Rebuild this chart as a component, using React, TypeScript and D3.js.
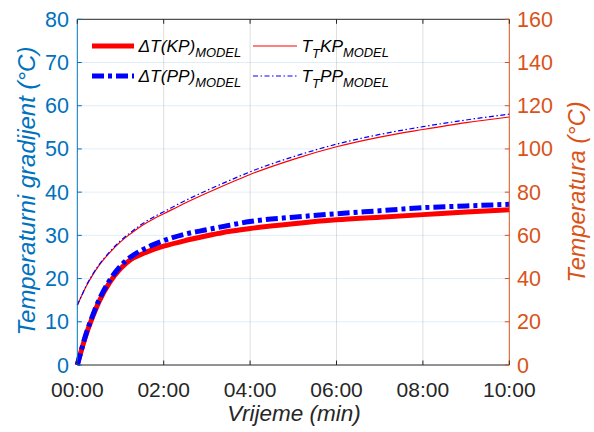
import React from "react";
import * as d3 from "d3";

const tMin = [0, 0.1, 0.2, 0.35, 0.5, 0.75, 1, 1.25, 1.5, 1.75, 2, 2.5, 3, 3.5, 4, 5, 6, 7, 8, 9, 10];
const dtKP = [0, 3.6, 6.9, 11.0, 14.6, 19.1, 22.3, 24.5, 25.7, 26.7, 27.5, 28.8, 29.9, 30.9, 31.6, 32.7, 33.6, 34.2, 34.8, 35.4, 35.9];
const dtPP = [0, 3.7, 7.1, 11.3, 15.0, 19.6, 22.9, 25.1, 26.6, 27.8, 28.8, 30.3, 31.3, 32.3, 33.2, 34.2, 35.0, 35.7, 36.4, 36.8, 37.2];
const ttKP = [27.6, 32, 36.2, 41.5, 46, 52, 57, 61, 64.6, 67.5, 70, 75, 79.6, 84, 88.2, 95.2, 101, 105.5, 109, 112.2, 114.8];
const ttPP = [27.6, 32.1, 36.4, 41.8, 46.3, 52.4, 57.5, 61.6, 65.3, 68.3, 70.9, 76.1, 80.8, 85.2, 89.4, 96.4, 102.2, 106.7, 110.3, 113.4, 116.1];

const xTicks = [0, 2, 4, 6, 8, 10];
const xTickLabels = ["00:00", "02:00", "04:00", "06:00", "08:00", "10:00"];
const leftTicks = [0, 10, 20, 30, 40, 50, 60, 70, 80];
const rightTicks = [0, 20, 40, 60, 80, 100, 120, 140, 160];

const LEFT_COLOR = "#0072BD";
const RIGHT_COLOR = "#D95319";
const AX = "#262626";
const FONT = "'Liberation Sans', Arial, Helvetica, sans-serif";

export default function App() {
  const W = 594, H = 432;
  const x0 = 77.3, x1 = 509.3, y0 = 19.3, y1 = 365;
  const x = d3.scaleLinear().domain([0, 10]).range([x0, x1]);
  const yL = d3.scaleLinear().domain([0, 80]).range([y1, y0]);
  const yR = d3.scaleLinear().domain([0, 160]).range([y1, y0]);

  const lineL = (vals: number[]) =>
    d3.line<number>().x((_, i) => x(tMin[i])).y((v) => yL(v)).curve(d3.curveMonotoneX)(vals) || "";
  const lineR = (vals: number[]) =>
    d3.line<number>().x((_, i) => x(tMin[i])).y((v) => yR(v)).curve(d3.curveMonotoneX)(vals) || "";

  const tick = 4.5;
  const thickDash = "12,4,4,4";
  const thinDash = "5,2.5,1.5,2.5";

  return (
    <svg width={W} height={H} style={{ position: "absolute", left: 0, top: 0, background: "#fff" }}>
      <rect x={0} y={0} width={W} height={H} fill="#fff" />
      {/* grid */}
      {xTicks.slice(1, -1).map((t) => (
        <line key={"gx" + t} x1={x(t)} x2={x(t)} y1={y0} y2={y1} stroke={AX} strokeOpacity={0.15} strokeWidth={1} />
      ))}
      {leftTicks.slice(1, -1).map((v) => (
        <line key={"gy" + v} x1={x0} x2={x1} y1={yL(v)} y2={yL(v)} stroke={LEFT_COLOR} strokeOpacity={0.12} strokeWidth={1} />
      ))}
      {/* data */}
      <g fill="none">
        <path d={lineL(dtKP)} stroke="#FF0000" strokeWidth={5} />
        <path d={lineL(dtPP)} stroke="#0000FF" strokeWidth={5} strokeDasharray={thickDash} />
        <path d={lineR(ttKP)} stroke="#FF0000" strokeWidth={1.2} />
        <path d={lineR(ttPP)} stroke="#0000FF" strokeWidth={1.2} strokeDasharray={thinDash} />
      </g>
      {/* box axes */}
      <line x1={x0} x2={x1} y1={y0} y2={y0} stroke={AX} strokeWidth={1} />
      <line x1={x0} x2={x1} y1={y1} y2={y1} stroke={AX} strokeWidth={1} />
      <line x1={x0} x2={x0} y1={y0} y2={y1} stroke={LEFT_COLOR} strokeWidth={1} />
      <line x1={x1} x2={x1} y1={y0} y2={y1} stroke={RIGHT_COLOR} strokeWidth={1} />
      {/* x ticks */}
      {xTicks.map((t, i) => (
        <g key={"xt" + t}>
          <line x1={x(t)} x2={x(t)} y1={y1} y2={y1 - tick} stroke={AX} />
          <line x1={x(t)} x2={x(t)} y1={y0} y2={y0 + tick} stroke={AX} />
          <text x={x(t)} y={397} textAnchor="middle" fontFamily={FONT} fontSize={21} fill={AX}>
            {xTickLabels[i]}
          </text>
        </g>
      ))}
      {/* left ticks */}
      {leftTicks.map((v) => (
        <g key={"yl" + v}>
          <line x1={x0} x2={x0 + tick} y1={yL(v)} y2={yL(v)} stroke={LEFT_COLOR} />
          <text x={69} y={yL(v) + 7.5} textAnchor="end" fontFamily={FONT} fontSize={21.5} fill={LEFT_COLOR}>
            {v}
          </text>
        </g>
      ))}
      {/* right ticks */}
      {rightTicks.map((v) => (
        <g key={"yr" + v}>
          <line x1={x1} x2={x1 - tick} y1={yR(v)} y2={yR(v)} stroke={RIGHT_COLOR} />
          <text x={517} y={yR(v) + 7.5} textAnchor="start" fontFamily={FONT} fontSize={21.5} fill={RIGHT_COLOR}>
            {v}
          </text>
        </g>
      ))}
      {/* axis labels */}
      <text x={294} y={421} textAnchor="middle" fontFamily={FONT} fontSize={22.5} fontStyle="italic" fill={AX}>
        Vrijeme (min)
      </text>
      <text transform={`translate(35,191) rotate(-90)`} textAnchor="middle" fontFamily={FONT} fontSize={24} fontStyle="italic" fill={LEFT_COLOR}>
        Temperaturni gradijent (°C)
      </text>
      <text transform={`translate(585,192) rotate(-90)`} textAnchor="middle" fontFamily={FONT} fontSize={23.5} fontStyle="italic" fill={RIGHT_COLOR}>
        Temperatura (°C)
      </text>
      {/* legend */}
      <g fontFamily={FONT} fontStyle="italic" fill="#000">
        <line x1={92} x2={134} y1={46} y2={46} stroke="#FF0000" strokeWidth={5} />
        <text x={138.5} y={52} fontSize={17.3}>
          ΔT(KP)<tspan dy={5} fontSize={12.9}>MODEL</tspan>
        </text>
        <line x1={92} x2={134} y1={76} y2={76} stroke="#0000FF" strokeWidth={5} strokeDasharray={thickDash} />
        <text x={138.5} y={82} fontSize={17.3}>
          ΔT(PP)<tspan dy={5} fontSize={12.9}>MODEL</tspan>
        </text>
        <line x1={253} x2={297} y1={46} y2={46} stroke="#FF0000" strokeWidth={1.2} />
        <text x={301.5} y={52} fontSize={17.3}>
          T<tspan dy={6} fontSize={12.9}>T</tspan><tspan dy={-6}>KP</tspan><tspan dy={5} fontSize={12.9}>MODEL</tspan>
        </text>
        <line x1={253} x2={297} y1={76} y2={76} stroke="#0000FF" strokeWidth={1.2} strokeDasharray={thinDash} />
        <text x={301.5} y={82} fontSize={17.3}>
          T<tspan dy={6} fontSize={12.9}>T</tspan><tspan dy={-6}>PP</tspan><tspan dy={5} fontSize={12.9}>MODEL</tspan>
        </text>
      </g>
    </svg>
  );
}
